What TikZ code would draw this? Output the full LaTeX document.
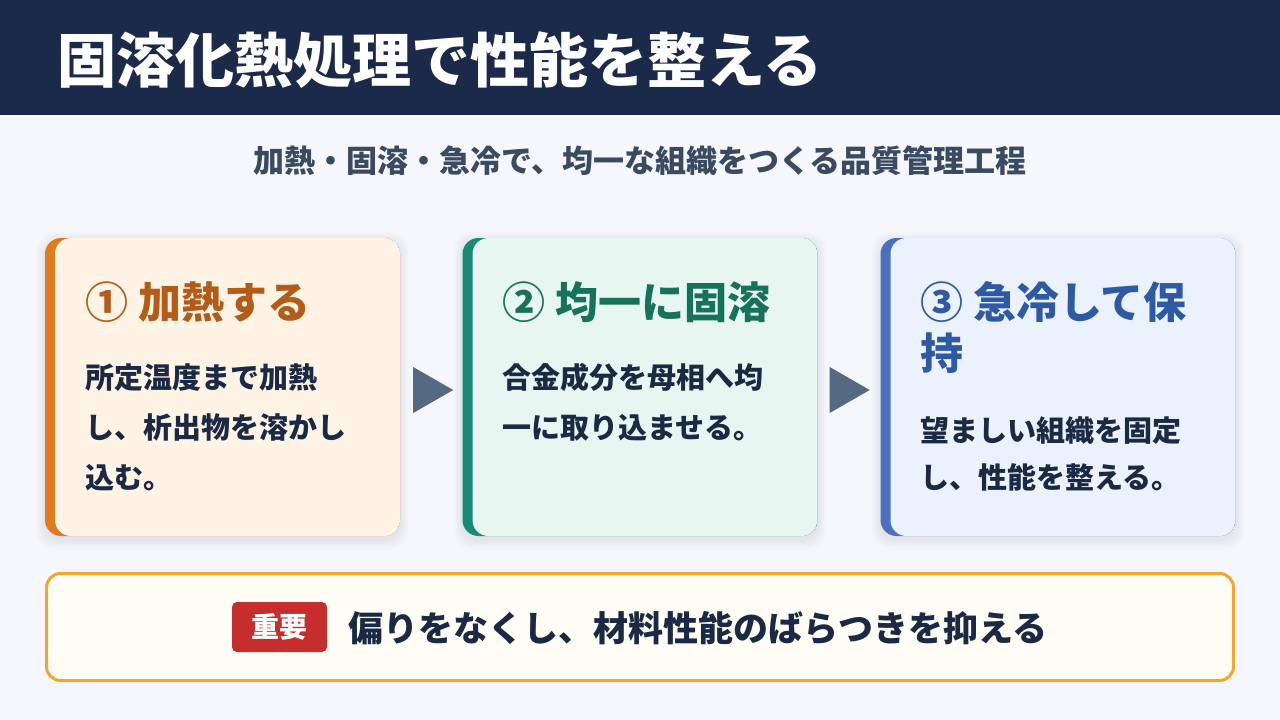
\documentclass[tikz,border=0pt]{standalone}
\usepackage{fontspec}
\setmainfont{Noto Sans CJK JP}
\usetikzlibrary{calc}
\definecolor{bgc}{HTML}{F5F7FC}
\definecolor{hdr}{HTML}{1B2A4A}
\definecolor{subc}{HTML}{3A4A60}
\definecolor{bodyc}{HTML}{1B2A44}
\definecolor{arrc}{HTML}{546A82}
\definecolor{barA}{HTML}{E07B1E}
\definecolor{fillA}{HTML}{FFF3E6}
\definecolor{titA}{HTML}{B35C17}
\definecolor{barB}{HTML}{178A78}
\definecolor{fillB}{HTML}{E8F6F2}
\definecolor{titB}{HTML}{16735A}
\definecolor{barC}{HTML}{4A70BE}
\definecolor{fillC}{HTML}{ECF2FD}
\definecolor{titC}{HTML}{2D5AA3}
\definecolor{noteB}{HTML}{F0A830}
\definecolor{noteF}{HTML}{FFFDF5}
\definecolor{badgeC}{HTML}{C62E2E}
\newcommand\myfs[2]{\fontsize{#1pt}{#2pt}\selectfont}
\begin{document}
\begin{tikzpicture}[x=1pt,y=-1pt,
  card/.style n args={2}{minimum width=355pt,minimum height=298pt,inner sep=0pt,
    rounded corners=16pt,fill=#1,
    path picture={\fill[#2,rounded corners=16pt] ([xshift=10pt]path picture bounding box.south west) rectangle (path picture bounding box.north east);}},
  ctitle/.style={anchor=base west,inner sep=0pt,font=\myfs{43}{43}\bfseries,text=#1},
  cbody/.style={anchor=base west,inner sep=0pt,font=\myfs{29}{29}\bfseries,text=bodyc},
  stepArrow/.style={fill=arrc},
  softshadow/.style={fill=black,opacity=0.006,rounded corners=18pt}]
\useasboundingbox (0,0) rectangle (1280,720);
\fill[bgc] (0,0) rectangle (1280,720);
\fill[hdr] (0,0) rectangle (1280,115);
\node[anchor=base west,inner sep=0pt,text=white,font=\myfs{59}{59}\bfseries] (title) at (57,82) {固溶化熱処理で性能を整える};
\node[anchor=base,inner sep=0pt,text=subc,font=\myfs{31}{31}\bfseries] (sub) at (640,172) {加熱・固溶・急冷で、均一な組織をつくる品質管理工程};
% soft shadows
\foreach \cx in {222.5,640,1058}{
  \foreach \i in {1,...,9}{
    \fill[softshadow] (\cx-177.5-\i, 241-\i) rectangle (\cx+177.5+\i, 540+\i);
  }
}
% cards
\node[card={barA}{fillA}] (c1) at (222.5,387) {};
\node[card={barB}{fillB}] (c2) at (640,387) {};
\node[card={barC}{fillC}] (c3) at (1058,387) {};
% card 1
\node[ctitle=titA] (t1) at (85,318) {① 加熱する};
\node[cbody] (b1a) at (85,388) {所定温度まで加熱};
\node[cbody] (b1b) at (85,438) {し、析出物を溶かし};
\node[cbody] (b1c) at (85,488) {込む。};
% card 2
\node[ctitle=titB] (t2) at (502,318) {② 均一に固溶};
\node[cbody] (b2a) at (502,388) {合金成分を母相へ均};
\node[cbody] (b2b) at (502,438) {一に取り込ませる。};
% card 3
\node[ctitle=titC] (t3a) at (920,318) {③ 急冷して保};
\node[ctitle=titC] (t3b) at (920,369) {持};
\node[cbody] (b3a) at (920,441) {望ましい組織を固定};
\node[cbody] (b3b) at (920,488) {し、性能を整える。};
% arrows
\fill[stepArrow] ($(c1.east)+(13,-20)$) -- ($(c1.east)+(13,26)$) -- ($(c1.east)+(53,3)$) -- cycle;
\fill[stepArrow] ($(c2.east)+(12,-20)$) -- ($(c2.east)+(12,26)$) -- ($(c2.east)+(52,3)$) -- cycle;
% note
\node[draw=noteB,line width=3pt,fill=noteF,rounded corners=14pt,minimum width=1187pt,minimum height=107pt,inner sep=0pt] (note) at (640,627) {};
\node[fill=badgeC,rounded corners=5pt,minimum width=95pt,minimum height=50pt,inner sep=0pt,text=white,font=\myfs{28}{28}\bfseries] (badge) at (279.5,627) {重要};
\node[anchor=base west,inner sep=0pt,text=bodyc,font=\myfs{35}{35}\bfseries] (msg) at (348,641) {偏りをなくし、材料性能のばらつきを抑える};
\end{tikzpicture}
\end{document}
